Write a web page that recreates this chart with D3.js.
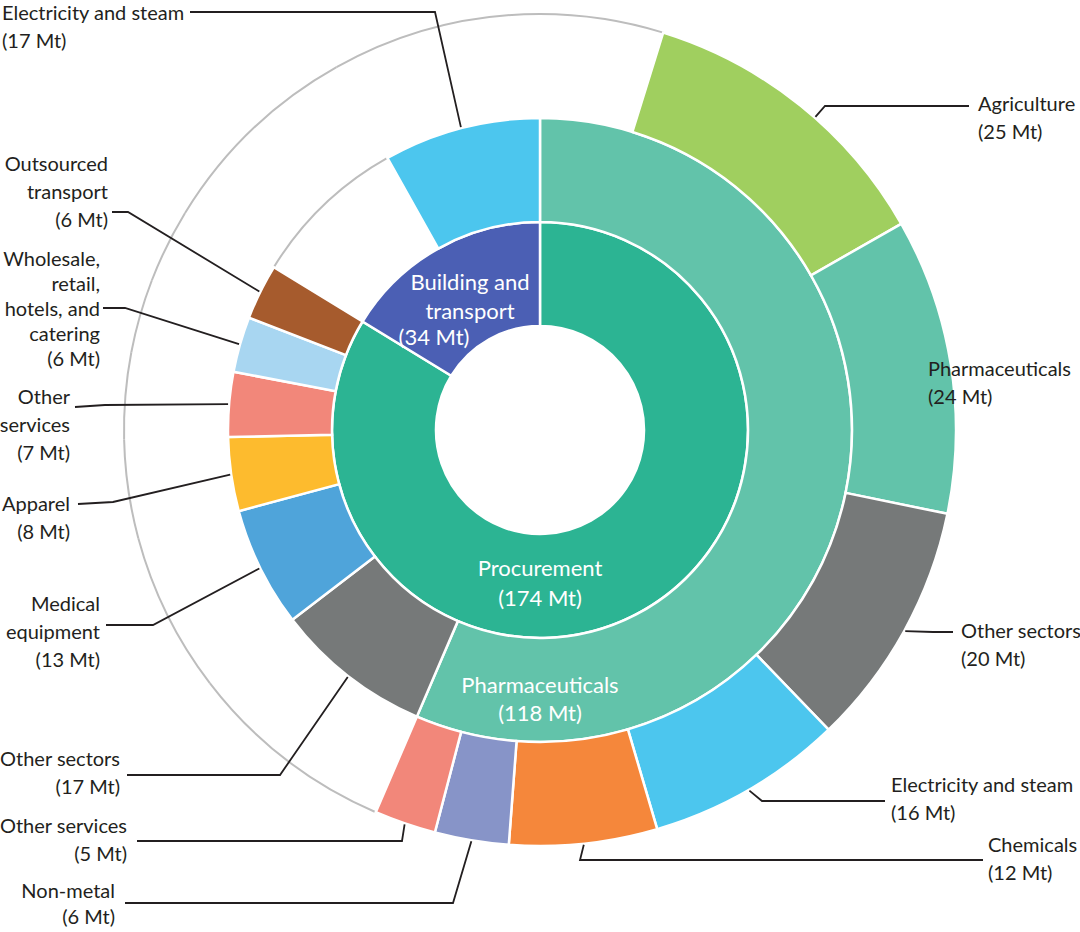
<!DOCTYPE html>
<html>
<head>
<meta charset="utf-8">
<script src="https://cdn.jsdelivr.net/npm/d3@7"></script>
<style>
  body { margin: 0; background: #fff; }
  text { font-family: Lato, "Open Sans", sans-serif; font-size: 20px; }
  text.inner { font-size: 22px; }
</style>
</head>
<body>
<svg id="chart" width="1080" height="932"></svg>
<script>
// emissions by scope (inner ring), Mt CO2e
const scopes = ["Procurement", "Building and transport"];
const scopeValues = [174, 34];

// procurement sectors (middle ring)
const procurementSectors = ["Pharmaceuticals", "Other sectors", "Medical equipment", "Apparel",
  "Other services", "Wholesale, retail, hotels, and catering", "Outsourced transport"];
const procurementValues = [118, 17, 13, 8, 7, 6, 6];

// building and transport (middle ring), null = not broken down
const buildingSectors = [null, "Electricity and steam"];
const buildingValues = [17, 17];

// supply chain of pharmaceuticals (outer ring), null = not broken down
const pharmaSupplySectors = [null, "Agriculture", "Pharmaceuticals", "Other sectors",
  "Electricity and steam", "Chemicals", "Non-metal", "Other services"];
const pharmaSupplyValues = [10, 25, 24, 20, 16, 12, 6, 5];

const colors = {
  "Procurement": "#2cb493",
  "Building and transport": "#4b5fb4",
  "Pharmaceuticals": "#62c3aa",
  "Other sectors": "#767979",
  "Medical equipment": "#4fa4da",
  "Apparel": "#fdbb2e",
  "Other services": "#f2877a",
  "Wholesale, retail, hotels, and catering": "#a8d6f1",
  "Outsourced transport": "#a65b2d",
  "Electricity and steam": "#4cc6ee",
  "Agriculture": "#a0cf5f",
  "Chemicals": "#f5873b",
  "Non-metal": "#8794c8"
};

// label placement (page coordinates)
const outerLabels = [
  { id: "Building and transport/Electricity and steam", lines: ["Electricity and steam"], anchor: "start", x: 2, y: 20, lead: [[190, 12], [435, 12]] },
  { id: "Procurement/Outsourced transport", lines: ["Outsourced", "transport"], anchor: "end", x: 108, y: 171, lead: [[112, 212], [128, 212]] },
  { id: "Procurement/Wholesale, retail, hotels, and catering", lines: ["Wholesale,", "retail,", "hotels, and", "catering"], anchor: "end", x: 100, y: 266, dy: 25, lead: [[103, 308], [125, 308]] },
  { id: "Procurement/Other services", lines: ["Other", "services"], anchor: "end", x: 70, y: 404, lead: [[75, 407], [105, 405]] },
  { id: "Procurement/Apparel", lines: ["Apparel"], anchor: "end", x: 70, y: 511, lead: [[78, 504], [113, 502]] },
  { id: "Procurement/Medical equipment", lines: ["Medical", "equipment"], anchor: "end", x: 100, y: 611, lead: [[106, 625], [153, 625]] },
  { id: "Procurement/Other sectors", lines: ["Other sectors"], anchor: "end", x: 120, y: 766, lead: [[127, 775], [280, 775]] },
  { id: "Procurement/Pharmaceuticals/Other services", lines: ["Other services"], anchor: "end", x: 127, y: 833, lead: [[137, 841], [402, 841]] },
  { id: "Procurement/Pharmaceuticals/Non-metal", lines: ["Non-metal"], anchor: "end", x: 115, y: 898, dy: 26, lead: [[125, 903], [453, 903]] },
  { id: "Procurement/Pharmaceuticals/Agriculture", lines: ["Agriculture"], anchor: "start", x: 978, y: 111, lead: [[969, 106], [825, 106]], at: 0.56 },
  { id: "Procurement/Pharmaceuticals/Pharmaceuticals", lines: ["Pharmaceuticals"], anchor: "start", x: 928, y: 376 },
  { id: "Procurement/Pharmaceuticals/Other sectors", lines: ["Other sectors"], anchor: "start", x: 961, y: 638, lead: [[953, 632], [933, 632]] },
  { id: "Procurement/Pharmaceuticals/Electricity and steam", lines: ["Electricity and steam"], anchor: "start", x: 891, y: 792, lead: [[885, 801], [762, 801]] },
  { id: "Procurement/Pharmaceuticals/Chemicals", lines: ["Chemicals"], anchor: "start", x: 988, y: 852, lead: [[983, 860], [580, 860]] }
];

const innerLabels = [
  { id: "Building and transport", lines: [[470, 290, "Building and"], [470, 319, "transport"]], value: [434, 345] },
  { id: "Procurement", lines: [[540, 576, "Procurement"]], value: [540, 606] },
  { id: "Procurement/Pharmaceuticals", lines: [[540, 693, "Pharmaceuticals"]], value: [540, 721] }
];

const cx = 540, cy = 430, R = 416;

function leaves(names, values) {
  return names.map((n, i) => ({ name: n, value: values[i] }));
}

const tree = {
  name: "root",
  children: [
    {
      name: scopes[0], value: scopeValues[0],
      children: procurementSectors.map((n, i) => n === "Pharmaceuticals"
        ? { name: n, value: procurementValues[i], children: leaves(pharmaSupplySectors, pharmaSupplyValues) }
        : { name: n, value: procurementValues[i] })
    },
    { name: scopes[1], value: scopeValues[1], children: leaves(buildingSectors, buildingValues) }
  ]
};

const root = d3.hierarchy(tree).sum(d => d.children ? 0 : d.value);
d3.partition().size([2 * Math.PI, R])(root);

const idOf = n => n.ancestors().reverse().slice(1).map(a => a.data.name).join("/");
const byId = new Map(root.descendants().map(n => [idOf(n), n]));

const svg = d3.select("#chart");
const g = svg.append("g").attr("transform", `translate(${cx},${cy})`);

const arc = d3.arc()
  .startAngle(d => d.x0)
  .endAngle(d => d.x1)
  .innerRadius(d => d.y0)
  .outerRadius(d => d.y1);

function rim(r, a0, a1) {
  const p = d3.path();
  p.arc(0, 0, r, a0 - Math.PI / 2, a1 - Math.PI / 2);
  return p.toString();
}

// grey outline over the parts that are not broken down
const nodes = root.descendants().filter(d => d.depth > 0);
const rims = [];
nodes.forEach(d => {
  if (d.data.name === null) rims.push([d.y1, d.x0, d.x1]);
  if (!d.children && d.depth < 3) rims.push([R, d.x0, d.x1]);
});
g.selectAll("path.rim")
  .data(rims)
  .join("path")
  .attr("class", "rim")
  .attr("d", r => rim(r[0], r[1], r[2]))
  .attr("fill", "none")
  .attr("stroke", "#bdbdbd")
  .attr("stroke-width", 2);

g.selectAll("path.seg")
  .data(nodes.filter(d => d.data.name !== null))
  .join("path")
  .attr("class", "seg")
  .attr("d", arc)
  .attr("fill", d => colors[d.data.name])
  .attr("stroke", "#fff")
  .attr("stroke-width", 2.5);

// leaders and outer labels
function edgePoint(n, t) {
  const a = n.x0 + t * (n.x1 - n.x0), r = n.y1 + 1;
  return [cx + r * Math.sin(a), cy - r * Math.cos(a)];
}

const lg = svg.append("g");
outerLabels.forEach(l => {
  const n = byId.get(l.id);
  const step = l.dy || 28;
  if (l.lead) {
    const pts = l.lead.concat([edgePoint(n, l.at || 0.5)]);
    lg.append("path")
      .attr("d", d3.line()(pts))
      .attr("fill", "none")
      .attr("stroke", "#231f20")
      .attr("stroke-width", 1.8);
  }
  const t = lg.append("text")
    .attr("text-anchor", l.anchor)
    .attr("fill", "#231f20");
  l.lines.concat([`(${n.data.value} Mt)`]).forEach((s, i) => {
    t.append("tspan").attr("x", l.x).attr("y", l.y + i * step).text(s);
  });
});

innerLabels.forEach(l => {
  const n = byId.get(l.id);
  const t = svg.append("text").attr("class", "inner").attr("text-anchor", "middle").attr("fill", "#fff");
  l.lines.forEach(p => t.append("tspan").attr("x", p[0]).attr("y", p[1]).text(p[2]));
  t.append("tspan").attr("x", l.value[0]).attr("y", l.value[1]).text(`(${n.data.value} Mt)`);
});
</script>
</body>
</html>
